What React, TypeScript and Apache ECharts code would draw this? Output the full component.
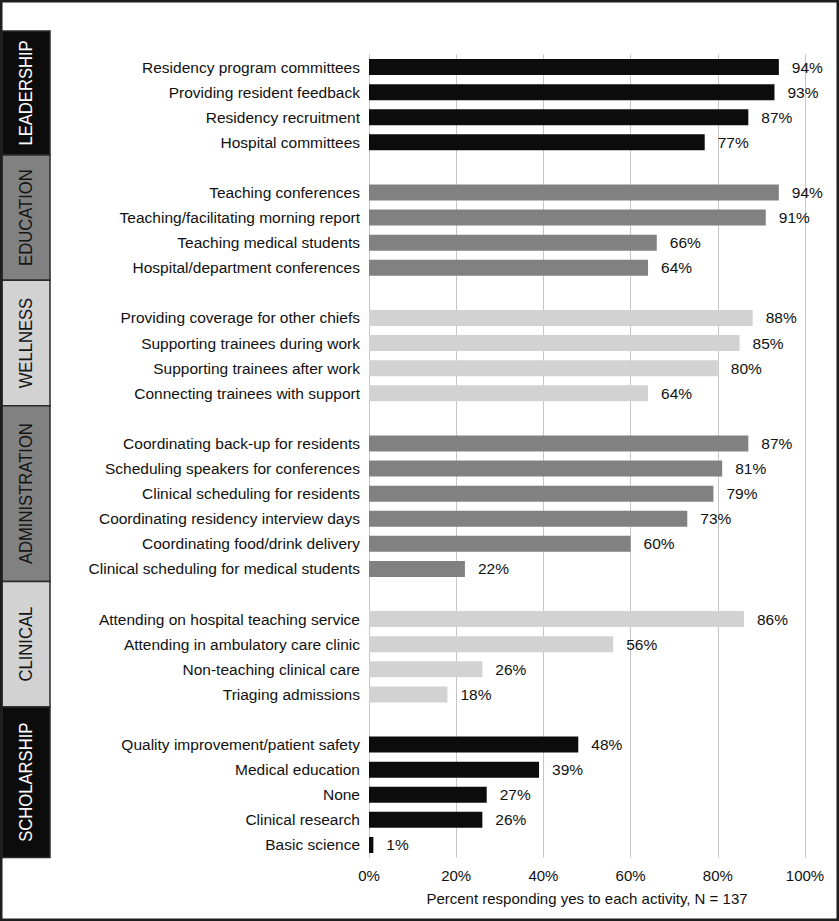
import React, { useEffect, useRef } from "react";
import * as echarts from "echarts";

const groupNames = ["LEADERSHIP", "EDUCATION", "WELLNESS", "ADMINISTRATION", "CLINICAL", "SCHOLARSHIP"];

const leadershipItems = ["Residency program committees", "Providing resident feedback", "Residency recruitment", "Hospital committees"];
const leadershipValues = [94, 93, 87, 77];

const educationItems = ["Teaching conferences", "Teaching/facilitating morning report", "Teaching medical students", "Hospital/department conferences"];
const educationValues = [94, 91, 66, 64];

const wellnessItems = ["Providing coverage for other chiefs", "Supporting trainees during work", "Supporting trainees after work", "Connecting trainees with support"];
const wellnessValues = [88, 85, 80, 64];

const administrationItems = [
  "Coordinating back-up for residents",
  "Scheduling speakers for conferences",
  "Clinical scheduling for residents",
  "Coordinating residency interview days",
  "Coordinating food/drink delivery",
  "Clinical scheduling for medical students",
];
const administrationValues = [87, 81, 79, 73, 60, 22];

const clinicalItems = ["Attending on hospital teaching service", "Attending in ambulatory care clinic", "Non-teaching clinical care", "Triaging admissions"];
const clinicalValues = [86, 56, 26, 18];

const scholarshipItems = ["Quality improvement/patient safety", "Medical education", "None", "Clinical research", "Basic science"];
const scholarshipValues = [48, 39, 27, 26, 1];

const xTicks = [0, 20, 40, 60, 80, 100];
const xAxisTitle = "Percent responding yes to each activity, N = 137";

const BLACK = "#0c0c0c";
const GRAY = "#818181";
const LIGHT = "#d2d2d2";
const groupColors = [BLACK, GRAY, LIGHT, GRAY, LIGHT, BLACK];
const groupTextColors = ["#ffffff", "#151515", "#151515", "#151515", "#151515", "#ffffff"];

const groupItems = [leadershipItems, educationItems, wellnessItems, administrationItems, clinicalItems, scholarshipItems];
const groupValues = [leadershipValues, educationValues, wellnessValues, administrationValues, clinicalValues, scholarshipValues];

const FONT = '"Liberation Sans", Arial, Helvetica, sans-serif';

export default function App() {
  const ref = useRef<HTMLDivElement>(null);

  useEffect(() => {
    if (!ref.current) return;
    const chart = echarts.init(ref.current, undefined, { renderer: "svg" });

    const categories: string[] = [];
    const data: any[] = [];
    const lastIndex: number[] = [];
    let gapCount = 0;
    groupItems.forEach((items, g) => {
      if (g > 0) {
        gapCount += 1;
        categories.push(" ".repeat(gapCount));
        data.push("-");
      }
      items.forEach((name, i) => {
        categories.push(name);
        data.push({
          value: groupValues[g][i],
          itemStyle: { color: groupColors[g] },
        });
      });
      lastIndex.push(categories.length - 1);
    });

    const gridTop = 54.5;
    const gridBottom = 63.5;

    chart.setOption({
      animation: false,
      backgroundColor: "#ffffff",
      textStyle: { fontFamily: FONT },
      grid: { left: 369, right: 34, top: gridTop, bottom: gridBottom, containLabel: false },
      xAxis: {
        type: "value",
        min: xTicks[0],
        max: xTicks[xTicks.length - 1],
        interval: xTicks[1] - xTicks[0],
        axisLine: { show: false },
        axisTick: { show: false },
        splitLine: { show: true, lineStyle: { color: "#c6c6c6", width: 1 } },
        axisLabel: { formatter: "{value}%", fontSize: 15, color: "#111", margin: 10, fontFamily: FONT },
        name: xAxisTitle,
        nameLocation: "middle",
        nameGap: 33,
        nameTextStyle: { fontSize: 15, color: "#111", fontFamily: FONT },
      },
      yAxis: {
        type: "category",
        inverse: true,
        data: categories,
        axisLine: { show: true, lineStyle: { color: "#c6c6c6", width: 1 } },
        axisTick: { show: false },
        axisLabel: { fontSize: 15.5, color: "#111", margin: 9, fontFamily: FONT },
        splitLine: { show: false },
      },
      series: [
        {
          type: "bar",
          data,
          barWidth: 16,
          label: {
            show: true,
            position: "right",
            distance: 13,
            formatter: "{c}%",
            fontSize: 15.5,
            color: "#111",
            fontFamily: FONT,
          },
        },
      ],
    });

    // Group blocks on the left, aligned to bottom of each group's last row
    const band = (921 - gridTop - gridBottom) / categories.length;
    const graphics: any[] = [];
    let prevBottom = 31;
    lastIndex.forEach((idx, g) => {
      const center = chart.convertToPixel({ yAxisIndex: 0 }, categories[idx]) as number;
      const bottom = center + band / 2;
      const top = prevBottom;
      graphics.push({
        type: "rect",
        shape: { x: 2, y: top, width: 48, height: bottom - top },
        style: { fill: groupColors[g], stroke: "#2a2a2a", lineWidth: 1.5 },
        z: 10,
      });
      graphics.push({
        type: "text",
        x: 26,
        y: (top + bottom) / 2,
        rotation: Math.PI / 2,
        scaleX: 0.875,
        style: {
          text: groupNames[g],
          fill: groupTextColors[g],
          font: `19px ${FONT}`,
          align: "center",
          verticalAlign: "middle",
        },
        z: 11,
      });
      prevBottom = bottom;
    });
    graphics.push({
      type: "rect",
      shape: { x: 1.25, y: 1.25, width: 836.5, height: 918.5 },
      style: { fill: "none", stroke: "#1e1e1e", lineWidth: 2.5 },
      z: 20,
    });
    chart.setOption({ graphic: graphics });

    return () => chart.dispose();
  }, []);

  return <div ref={ref} style={{ position: "fixed", left: 0, top: 0, width: 839, height: 921 }} />;
}
